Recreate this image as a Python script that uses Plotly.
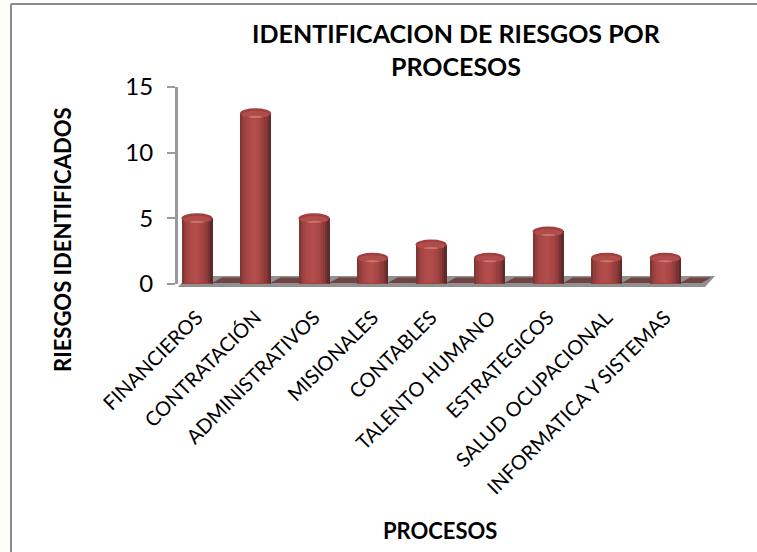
import plotly.graph_objects as go

CATEGORIES = [
    "FINANCIEROS", "CONTRATACIÓN", "ADMINISTRATIVOS", "MISIONALES", "CONTABLES",
    "TALENTO HUMANO", "ESTRATEGICOS", "SALUD OCUPACIONAL", "INFORMATICA Y SISTEMAS",
]
RIESGOS = [5, 13, 5, 2, 3, 2, 4, 2, 2]
Y_TICKS = [0, 5, 10, 15]

# left-to-right shading of the cylinder body
SHADES = [
    "#803634", "#943e3c", "#a04341", "#a84745", "#ae4a48", "#b24c4a", "#b34d4b",
    "#b04b49", "#aa4846", "#a24442", "#983f3d", "#8a3a38", "#763230", "#5f2a29",
]
BAR_W = 0.53
CAP_H = 0.76
GRID = "#9a9a9a"
FONT = "Lato, Carlito, sans-serif"


def px(x, y):
    # page pixels to a paper-coordinates path point, for decoration outside the axes
    return f"{(x - 178) / 527} {(284 - y) / 197}"


fig = go.Figure()

strip = BAR_W / len(SHADES)
for k, shade in enumerate(SHADES):
    fig.add_trace(go.Bar(
        x=list(range(len(CATEGORIES))), y=RIESGOS,
        width=strip * 1.25 if k < len(SHADES) - 1 else strip,
        offset=-BAR_W / 2 + k * strip,
        marker=dict(color=shade, line=dict(width=0)),
        showlegend=False,
        hoverinfo="skip" if k else None,
    ))

shapes = []
# frame, only top and left are visible in the picture
shapes.append(dict(type="rect", xref="paper", yref="paper", layer="below",
                   x0=-178 / 527, x1=579 / 527, y0=-268 / 197, y1=287 / 197,
                   line=dict(width=0), fillcolor="#fdfdf9"))
shapes.append(dict(type="rect", xref="paper", yref="paper", layer="below",
                   x0=-167 / 527, x1=579 / 527, y0=-268 / 197, y1=280 / 197,
                   line=dict(width=0), fillcolor="#ffffff"))
shapes.append(dict(type="line", xref="paper", yref="paper", layer="below",
                   x0=-167 / 527, x1=-167 / 527, y0=-268 / 197, y1=280 / 197,
                   line=dict(color="#8c8c8c", width=2)))
shapes.append(dict(type="line", xref="paper", yref="paper", layer="below",
                   x0=-167 / 527, x1=579 / 527, y0=280 / 197, y1=280 / 197,
                   line=dict(color="#8c8c8c", width=2)))

# floor of the 3D chart
shapes.append(dict(type="path", xref="paper", yref="paper", layer="below",
                   line=dict(width=0), fillcolor="#909090",
                   path=f"M {px(178, 287)} L {px(705, 287)} L {px(715, 276)} L {px(188, 276)} Z"))
n = len(CATEGORIES)
for i in range(n):
    x0 = 197 + 58.5 * i + 15
    x1 = x0 + 30 if i < n - 1 else 702
    shapes.append(dict(type="path", xref="paper", yref="paper", layer="below",
                       line=dict(width=0), fillcolor="#6f4443",
                       path=f"M {px(x0, 283)} L {px(x0 + 10, 277.5)} L {px(x1 + 9, 277.5)} L {px(x1, 283)} Z"))

# cylinder caps, centred on each value
for i, v in enumerate(RIESGOS):
    shapes.append(dict(type="circle", layer="above", line=dict(width=0), fillcolor="#a03f3e",
                       x0=i - BAR_W / 2, x1=i + BAR_W / 2, y0=v - CAP_H / 2, y1=v + CAP_H / 2))
    shapes.append(dict(type="circle", layer="above", line=dict(width=0), fillcolor="#b04c4a",
                       x0=i - BAR_W / 2 + 0.03, x1=i + BAR_W / 2 - 0.03,
                       y0=v - CAP_H / 2 + 0.02, y1=v + CAP_H / 4))
    shapes.append(dict(type="circle", layer="above", line=dict(width=0), fillcolor="#c9726d",
                       x0=i - 0.12, x1=i + 0.12, y0=v - CAP_H / 2 + 0.02, y1=v - CAP_H / 2 + 0.2))
    shapes.append(dict(type="circle", layer="above", line=dict(width=0), fillcolor="#a04341",
                       x0=i - BAR_W / 2, x1=i + BAR_W / 2, y0=-0.1, y1=0.1))

fig.update_layout(
    width=757, height=552, autosize=False,
    barmode="overlay", bargap=0,
    paper_bgcolor="#ffffff", plot_bgcolor="rgba(0,0,0,0)",
    margin=dict(l=178, r=52, t=87, b=268),
    font=dict(family=FONT, color="#000000"),
    title=dict(
        text="<b>IDENTIFICACION DE RIESGOS POR<br>PROCESOS</b>",
        font=dict(size=25, family=FONT), x=456 / 757, xanchor="center",
        y=1 - 43 / 552, yanchor="middle",
    ),
    shapes=shapes,
    annotations=[
        dict(text="<b>PROCESOS</b>", xref="paper", yref="paper", showarrow=False,
             xanchor="center", yanchor="middle",
             x=(440 - 178) / 527, y=-(530 - 284) / 197, font=dict(size=22)),
        dict(text="<b>RIESGOS IDENTIFICADOS</b>", xref="paper", yref="paper", showarrow=False,
             xanchor="center", yanchor="middle",
             x=(62 - 178) / 527, y=(284 - 240) / 197, textangle=-90, font=dict(size=22)),
    ],
)
fig.update_xaxes(
    tickmode="array", tickvals=list(range(n)), ticktext=CATEGORIES,
    range=[-0.325, 8.68], tickangle=-45, tickfont=dict(size=20), ticks="",
    ticklabelstandoff=17,
    showgrid=False, zeroline=False, showline=False,
    automargin=False,
)
fig.update_yaxes(
    tickmode="array", tickvals=Y_TICKS, range=[0, 15], tickfont=dict(size=24),
    ticks="outside", ticklen=8, tickwidth=2, tickcolor=GRID, ticklabelstandoff=9,
    showgrid=False, zeroline=False, showline=True, linecolor=GRID, linewidth=3,
    automargin=False,
)

# plotly's page keeps the browser's 8px body margin otherwise
fig.write_html("out.html", config=dict(displayModeBar=False),
               post_script="document.body.style.margin='0';")
